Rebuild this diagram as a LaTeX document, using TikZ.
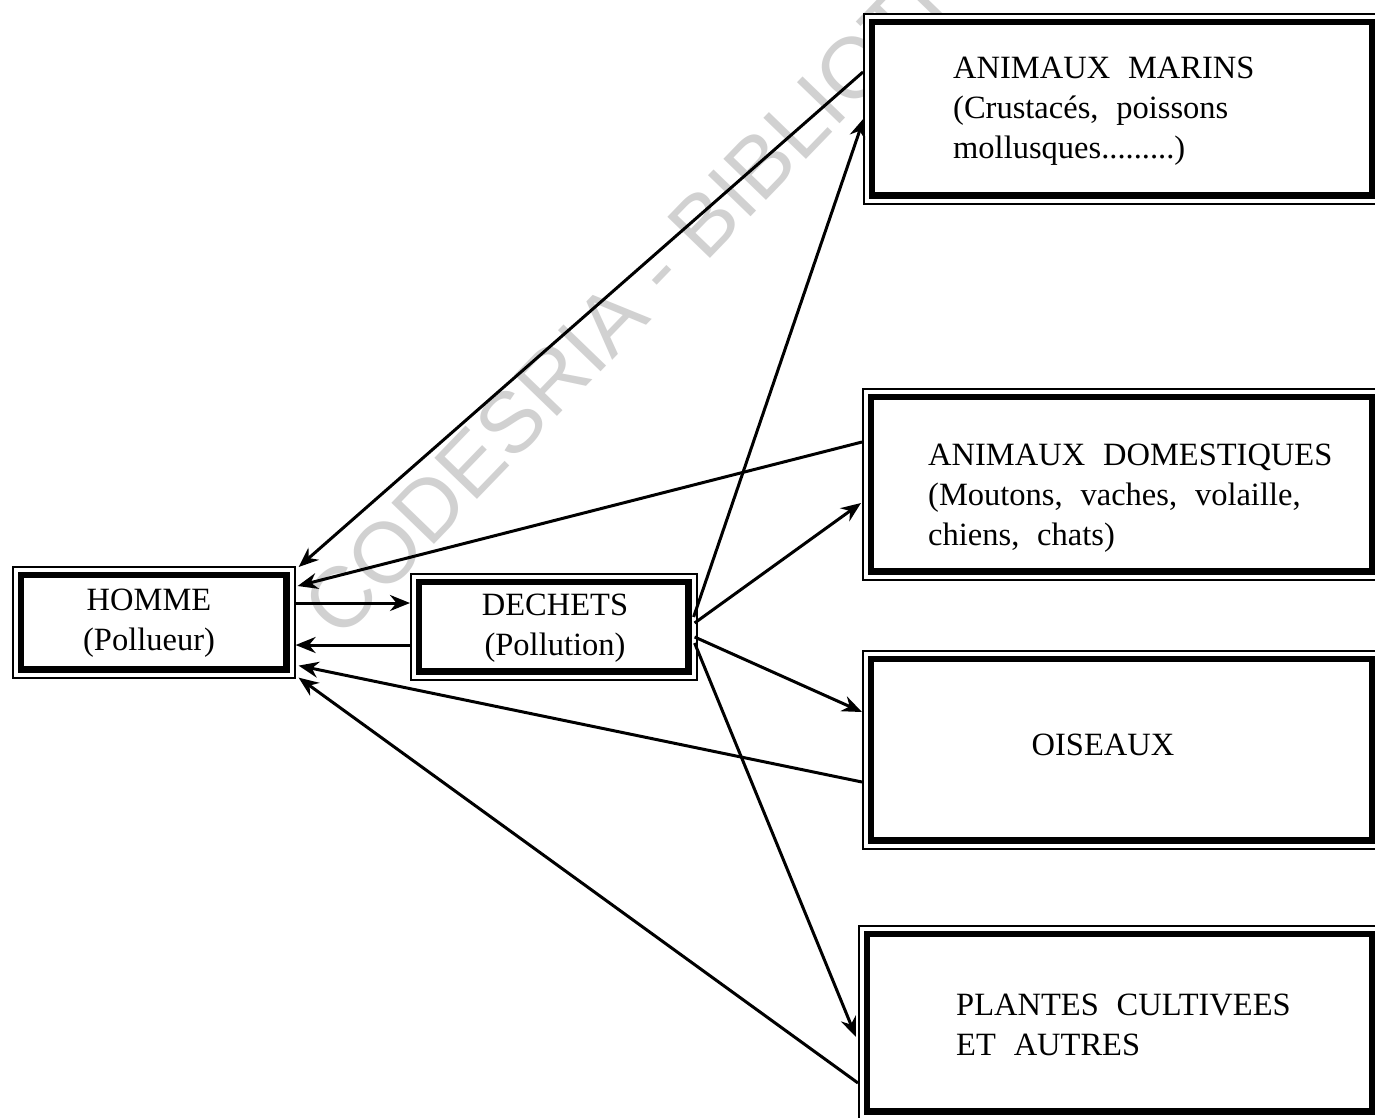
\documentclass[tikz,border=0pt]{standalone}
\usepackage{fontspec}
\setmainfont{Liberation Serif}[WordSpace=2.2]
\newfontfamily\wmfont{Liberation Sans}
\usetikzlibrary{arrows.meta,calc}
\begin{document}
\begin{tikzpicture}[x=1pt,y=-1pt,
  outerbox/.style={draw, line width=1.6pt, fill=white, inner sep=0pt, anchor=north west},
  innerbox/.style={line width=6.5pt},
  lbl/.style={font=\fontsize{32.5}{40}\selectfont, inner sep=0pt},
  conn/.style={line width=3pt, -{Stealth[length=20pt,width=16pt]}}]
\useasboundingbox (0,0) rectangle (1375,1117);
\fill[white] (0,0) rectangle (1375,1117);
\clip (0,0) rectangle (1375,1117);
% watermark
\node[font=\wmfont\fontsize{86}{86}\selectfont, text=black!18, rotate=46, anchor=base west, inner sep=0pt] (wm) at (340,642) {CODESRIA - BIBLIOTHEQUE};
% boxes
\node[outerbox, minimum width=282pt, minimum height=111pt] (hom) at (12,566) {};
\node[outerbox, minimum width=286pt, minimum height=106pt] (dec) at (410,573) {};
\node[outerbox, minimum width=517pt, minimum height=190pt] (mar) at (863,13) {};
\node[outerbox, minimum width=518pt, minimum height=191pt] (dom) at (862,388) {};
\node[outerbox, minimum width=518pt, minimum height=198pt] (ois) at (862,650) {};
\node[outerbox, minimum width=522pt, minimum height=194pt] (pla) at (858,925) {};
\foreach \n in {hom,dec,mar,dom,ois,pla}
  \draw[innerbox] ([shift={(9pt,-9pt)}]\n.north west) rectangle ([shift={(-9pt,9pt)}]\n.south east);
% texts (anchor base = baseline of the last line)
\node[lbl, anchor=base, align=center] (thom) at (149,650) {HOMME\\(Pollueur)};
\node[lbl, anchor=base, align=center] (tdec) at (555,655) {DECHETS\\(Pollution)};
\node[lbl, anchor=base west, align=left] (tmar) at (953,158) {ANIMAUX MARINS\\(Crustacés, poissons\\mollusques.........)};
\node[lbl, anchor=base west, align=left] (tdom) at (928,545) {ANIMAUX DOMESTIQUES\\(Moutons, vaches, volaille,\\chiens, chats)};
\node[lbl, anchor=base] (tois) at (1103,755) {OISEAUX};
\node[lbl, anchor=base west, align=left] (tpla) at (956,1055) {PLANTES CULTIVEES\\ET AUTRES};
% connectors
\draw[conn] ([yshift=-59pt]mar.north west) -- ([shift={(3pt,-1pt)}]hom.north east);
\draw[conn] ([yshift=-54pt]dom.north west) -- ([shift={(2pt,-20pt)}]hom.north east);
\draw[conn] ([yshift=-37pt]hom.north east) -- ([yshift=-30pt]dec.north west);
\draw[conn] ([yshift=-72pt]dec.north west) -- ([yshift=-79pt]hom.north east);
\draw[conn] ([yshift=-132pt]ois.north west) -- ([shift={(3pt,13pt)}]hom.south east);
\draw[conn] ([yshift=-158pt]pla.north west) -- ([shift={(3pt,1pt)}]hom.south east);
\draw[conn] ([shift={(-4pt,-44pt)}]dec.north east) -- ([shift={(1pt,-105pt)}]mar.north west);
\draw[conn] ([shift={(-3pt,-50pt)}]dec.north east) -- ([shift={(-1pt,-115pt)}]dom.north west);
\draw[conn] ([shift={(-3pt,-64pt)}]dec.north east) -- ([yshift=-62pt]ois.north west);
\draw[conn] ([shift={(-3pt,-70pt)}]dec.north east) -- ([shift={(-2pt,-112pt)}]pla.north west);
\end{tikzpicture}
\end{document}
